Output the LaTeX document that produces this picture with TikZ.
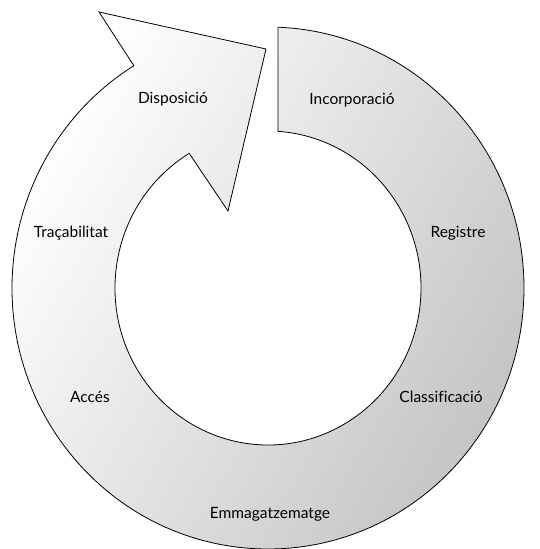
\documentclass[tikz,border=0pt]{standalone}
\usepackage{fontspec}
\setmainfont{Lato}[Ligatures=NoCommon]
\usepackage{tikz}
\usetikzlibrary{calc,positioning}
\tikzstyle{ring}  = [draw=black, line width=0.8pt, line join=miter, shading=axis, top color=white, bottom color=black!23, shading angle=60]
\tikzstyle{stage} = [font=\fontsize{15.5}{18}\selectfont, inner sep=1pt]

\begin{document}
\begin{tikzpicture}[x=1pt, y=1pt]
		\useasboundingbox (0,0) rectangle (539,549);
		\coordinate (C) at (268,261);

		% ring with arrow head
		\draw[ring] (C) ++(87.76:256 and 261)
			arc[start angle=87.76, end angle=-238.4, x radius=256, y radius=261]
			-- (99,537) -- (266,500) -- (228,338)
			-- ($(C)+(-239:153 and 157)$)
			arc[start angle=-239, end angle=86.25, x radius=153, y radius=157]
			-- cycle;

		\node[stage] (dispo)  at (173,450) {Disposició};
		\node[stage] (incorp) at (352,449) {Incorporació};
		\node[stage] (traca)  at (71,316)  {Traçabilitat};
		\node[stage] (regist) at (458,316) {Registre};
		\node[stage] (acces)  at (90,152)  {Accés};
		\node[stage] (classif) at (441,152) {Classificació};
		\node[stage] (emmag)  at (270,35)  {Emmagatzematge};
	\end{tikzpicture}
\end{document}
